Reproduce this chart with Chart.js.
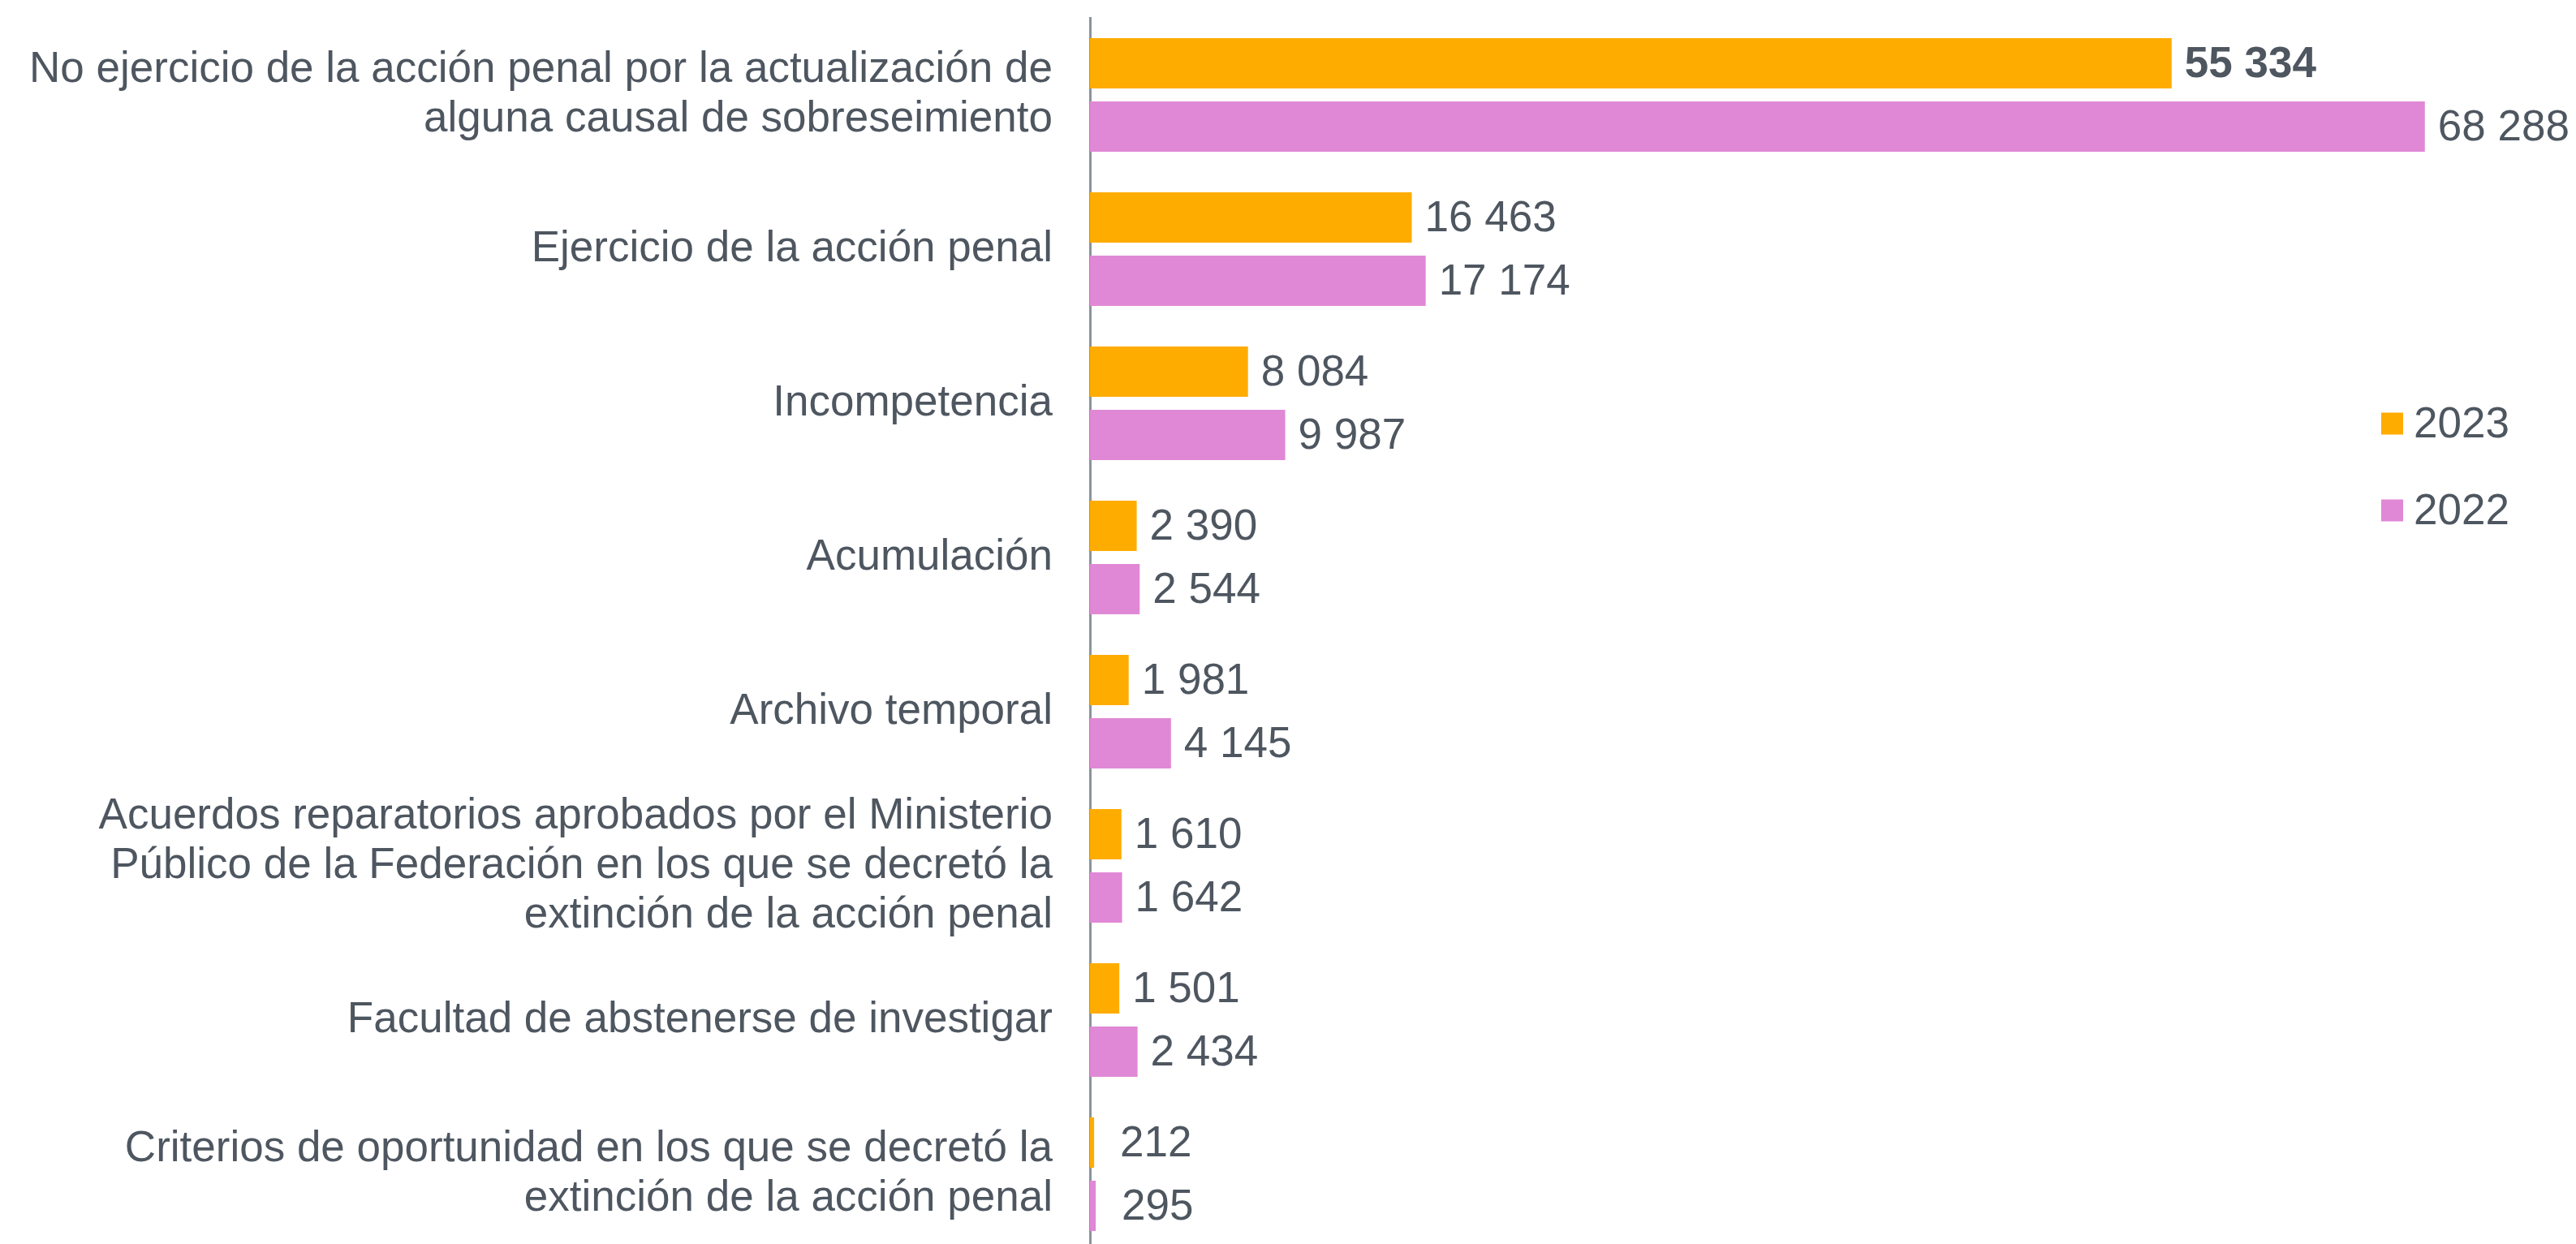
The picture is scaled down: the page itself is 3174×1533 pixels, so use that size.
<!DOCTYPE html>
<html>
<head>
<meta charset="utf-8">
<script src="https://cdn.jsdelivr.net/npm/chart.js@4/dist/chart.umd.min.js"></script>
<style>
  html, body { margin: 0; padding: 0; background: #fff; overflow: hidden; }
  #wrap { position: relative; width: 3174px; height: 1544px; }
</style>
</head>
<body>
<div id="wrap"><canvas id="chart"></canvas></div>
<script>
// ---- data ----
const categories = [
    ['No ejercicio de la acción penal por la actualización de', 'alguna causal de sobreseimiento'],
    'Ejercicio de la acción penal',
    'Incompetencia',
    'Acumulación',
    'Archivo temporal',
    ['Acuerdos reparatorios aprobados por el Ministerio', 'Público de la Federación en los que se decretó la', 'extinción de la acción penal'],
    'Facultad de abstenerse de investigar',
    ['Criterios de oportunidad en los que se decretó la', 'extinción de la acción penal']
];
const seriesNames = ['2023', '2022'];
const values2023 = [55334, 16463, 8084, 2390, 1981, 1610, 1501, 212];
const values2022 = [68288, 17174, 9987, 2544, 4145, 1642, 2434, 295];

const textColor = '#4e5660';
const axisColor = '#8a949e';
const colors = ['#ffac00', '#e088d6'];
const fontFamily = "'Liberation Sans', Arial, sans-serif";
const fontSize = 53;

function fmt(n) {
    return String(n).replace(/\B(?=(\d{3})+(?!\d))/g, ' ');
}

// value labels at bar ends
const valueLabels = {
    id: 'valueLabels',
    afterDatasetsDraw(chart) {
        const ctx = chart.ctx;
        ctx.save();
        ctx.fillStyle = textColor;
        ctx.textBaseline = 'middle';
        ctx.textAlign = 'left';
        chart.data.datasets.forEach((ds, di) => {
            const meta = chart.getDatasetMeta(di);
            meta.data.forEach((bar, i) => {
                const bold = di === 0 && i === 0;
                ctx.font = (bold ? 'bold ' : '') + fontSize + 'px ' + fontFamily;
                const pad = ds.data[i] < 1000 ? 32 : 16;
                ctx.fillText(fmt(ds.data[i]), bar.x + pad, bar.y + 2);
            });
        });
        ctx.restore();
    }
};

// legend on the right, inside the plot
const sideLegend = {
    id: 'sideLegend',
    afterDraw(chart) {
        const ctx = chart.ctx;
        ctx.save();
        ctx.font = fontSize + 'px ' + fontFamily;
        ctx.textBaseline = 'middle';
        ctx.textAlign = 'left';
        chart.data.datasets.forEach((ds, i) => {
            const cy = 522 + i * 107;
            ctx.fillStyle = ds.backgroundColor;
            ctx.fillRect(2934, cy - 13.5, 27, 27);
            ctx.fillStyle = textColor;
            ctx.fillText(ds.label, 2974, cy + 2);
        });
        ctx.restore();
    }
};

new Chart(document.getElementById('chart'), {
    type: 'bar',
    data: {
        labels: categories,
        datasets: [
            { label: seriesNames[0], data: values2023, backgroundColor: colors[0] },
            { label: seriesNames[1], data: values2022, backgroundColor: colors[1] }
        ]
    },
    options: {
        indexAxis: 'y',
        responsive: true,
        maintainAspectRatio: false,
        animation: false,
        categoryPercentage: 0.821,
        barPercentage: 0.795,
        layout: { padding: { top: 22, right: 145, bottom: 2, left: 0 } },
        plugins: {
            legend: { display: false },
            tooltip: { enabled: false }
        },
        scales: {
            x: { display: false, min: 0, max: 70000 },
            y: {
                afterFit(scale) {
                    scale.width = 1343;
                    scale.paddingTop = 0;
                    scale.paddingBottom = 0;
                },
                grid: { display: false, drawTicks: false },
                border: { display: true, color: axisColor, width: 3 },
                ticks: {
                    color: textColor,
                    padding: 46,
                    font: { family: fontFamily, size: fontSize, lineHeight: 1.15 }
                }
            }
        }
    },
    plugins: [valueLabels, sideLegend]
});
</script>
</body>
</html>
